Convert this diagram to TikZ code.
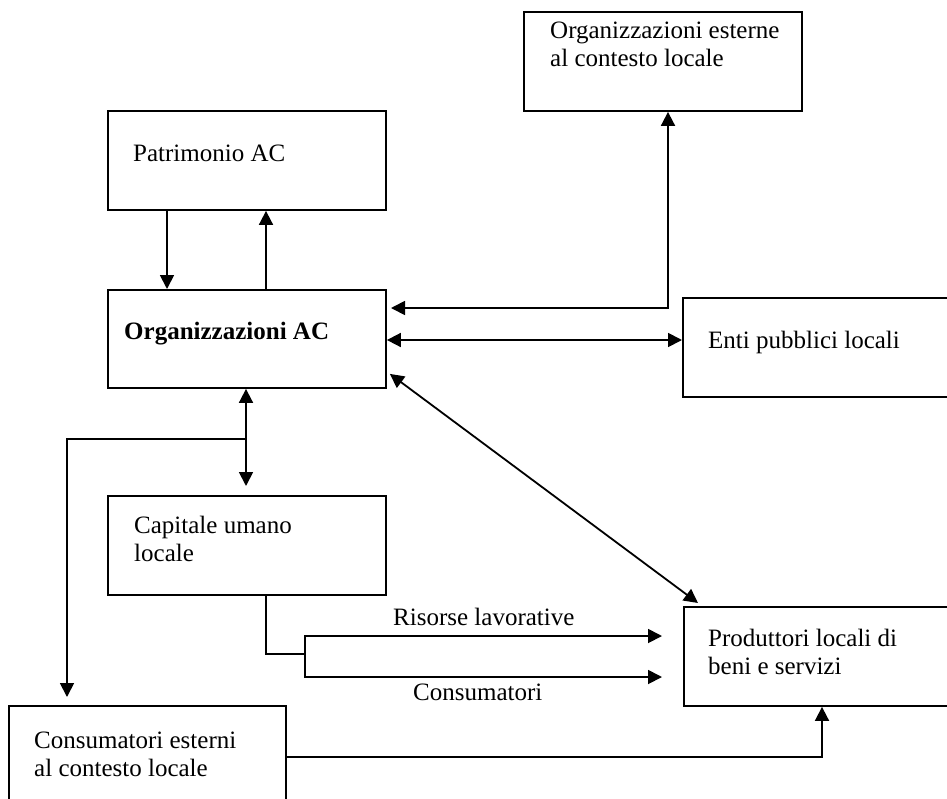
\documentclass[tikz,border=0pt]{standalone}
\usepackage{fontspec}
\setmainfont{Liberation Serif}
\usetikzlibrary{arrows.meta}
\begin{document}
\begin{tikzpicture}[x=1pt,y=-1pt,
  box/.style={draw,line width=1.9pt,inner sep=0pt,anchor=north west},
  lbl/.style={inner sep=0pt,anchor=base west,align=left,font=\fontsize{25}{28.5}\selectfont},
  link/.style={line width=1.8pt},
  tip/.style={-{Triangle[length=14pt,width=14pt]}},
  tips/.style={{Triangle[length=14pt,width=14pt]}-{Triangle[length=14pt,width=14pt]}}]
\useasboundingbox (0,0) rectangle (947,798);
\fill[white] (0,0) rectangle (947,798);
\clip (0,0) rectangle (947,798);

% boxes
\node[box,minimum width=278pt,minimum height=99pt] (oe) at (523,11) {};
\node[box,minimum width=278pt,minimum height=99pt] (pat) at (107,110) {};
\node[box,minimum width=278pt,minimum height=98pt] (org) at (107,289) {};
\node[box,minimum width=280pt,minimum height=99pt] (enti) at (682,297) {};
\node[box,minimum width=278pt,minimum height=99pt] (cap) at (107,495) {};
\node[box,minimum width=280pt,minimum height=99pt] (prod) at (683,606) {};
\node[box,minimum width=277pt,minimum height=110pt] (cons) at (8,705) {};

% box texts (two-line texts sit on the baseline of their last line)
\node[lbl] (oe-t) at (550,66.5) {Organizzazioni esterne\\al contesto locale};
\node[lbl] (pat-t) at (133,161) {Patrimonio AC};
\node[lbl] (org-t) at (124,339) {\bfseries Organizzazioni AC};
\node[lbl] (enti-t) at (708,348) {Enti pubblici locali};
\node[lbl] (cap-t) at (134,561.5) {Capitale umano\\locale};
\node[lbl] (prod-t) at (708,674.5) {Produttori locali di\\beni e servizi};
\node[lbl] (cons-t) at (34,776.5) {Consumatori esterni\\al contesto locale};

% connector labels
\node[lbl] (rl) at (393,625) {Risorse lavorative};
\node[lbl] (cm) at (413,700) {Consumatori};

% bend points and free ends
\coordinate (oeJ) at (668,308);
\coordinate (orgIn) at (391,308);
\coordinate (capIn) at (246,486);
\coordinate (split) at (246,439);
\coordinate (left) at (67,439);
\coordinate (consIn) at (67,697);
\coordinate (capOut) at (266,654);
\coordinate (fork) at (305,654);
\coordinate (forkT) at (305,636);
\coordinate (forkB) at (305,677);
\coordinate (rlEnd) at (662,636);
\coordinate (cmEnd) at (662,677);
\coordinate (bot) at (822,757);

% connectors
\draw[link,tip] (pat.south -| 167,0) -- (org.north -| 167,0);
\draw[link,tip] (org.north -| 266,0) -- (pat.south -| 266,0);
\draw[link,tips] (orgIn) -- (oeJ) -- (oe.south -| oeJ);
\draw[link,tips] (org.east |- 0,340) -- (enti.west |- 0,340);
\draw[link,tips] ([shift={(3,-15)}]org.south east) -- ([shift={(15,-3)}]prod.north west);
\draw[link,tips] (org.south -| split) -- (capIn);
\draw[link,tip] (split) -- (left) -- (consIn);
\draw[link] (cap.south -| capOut) -- (capOut) -- (fork);
\draw[link,tip] (fork) -- (forkT) -- (rlEnd);
\draw[link,tip] (fork) -- (forkB) -- (cmEnd);
\draw[link,tip] (cons.east |- bot) -- (bot) -- (prod.south -| bot);
\end{tikzpicture}
\end{document}
